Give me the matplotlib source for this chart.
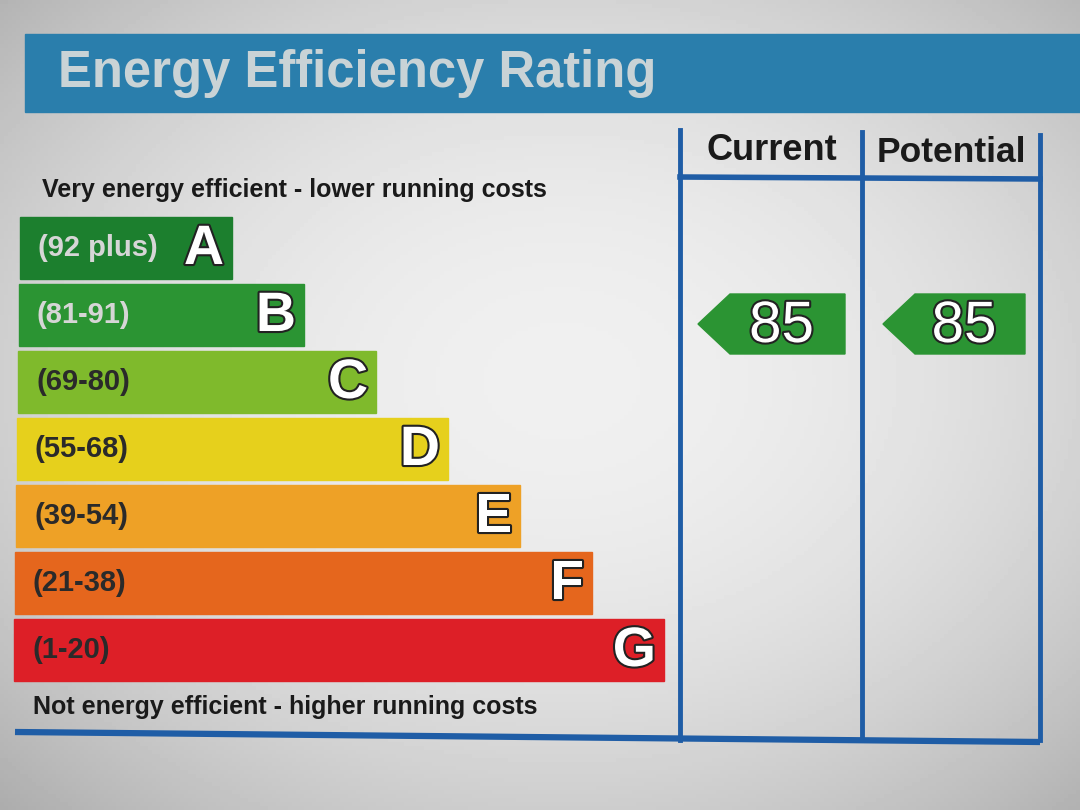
import numpy as np
import matplotlib.pyplot as plt
from matplotlib.patches import Rectangle, Polygon
import matplotlib.patheffects as pe

plt.rcParams['font.family'] = ['Liberation Sans', 'DejaVu Sans']

# chart data
bands = ['A', 'B', 'C', 'D', 'E', 'F', 'G']
ranges = ['(92 plus)', '(81-91)', '(69-80)', '(55-68)', '(39-54)', '(21-38)', '(1-20)']
lows = [92, 81, 69, 55, 39, 21, 1]
band_colors = ['#1c7f2e', '#2b9433', '#7fba2c', '#e6d01c', '#eea126', '#e5661d', '#dd1f27']
range_text = ['#d6d6d6', '#d6d6d6', '#2a2a2a', '#2a2a2a', '#2a2a2a', '#2a2a2a', '#2a2a2a']
current = 85
potential = 85

title = 'Energy Efficiency Rating'
top_note = 'Very energy efficient - lower running costs'
bottom_note = 'Not energy efficient - higher running costs'
col_titles = ['Current', 'Potential']

fig = plt.figure(figsize=(10.8, 8.1), dpi=100)
ax = fig.add_axes([0, 0, 1, 1])
ax.set_xlim(0, 1080)
ax.set_ylim(810, 0)
ax.axis('off')

# screen background, lighter in the middle
yy, xx = np.mgrid[0:810:4, 0:1080:4]
d = np.sqrt(((xx - 560) / 700.0) ** 2 + ((yy - 380) / 520.0) ** 2)
bg = np.clip(0.94 - 0.2 * d ** 2, 0.62, 0.95)
ax.imshow(bg, cmap='gray', vmin=0, vmax=1, extent=(0, 1080, 810, 0),
          aspect='auto', zorder=0)

# title banner
ax.add_patch(Rectangle((25, 34), 1060, 78, color='#2a7eac', zorder=1))
ax.text(58, 73, title, fontsize=36.5, fontweight='bold', color='#c9d3d6',
        va='center', ha='left', zorder=2)

ax.text(42, 190, top_note, fontsize=18, fontweight='bold', color='#1a1a1a',
        va='center', ha='left')
ax.text(33, 707, bottom_note, fontsize=18, fontweight='bold', color='#1a1a1a',
        va='center', ha='left')

# rating bars
outline = [pe.withStroke(linewidth=3, foreground='#222222')]
top0, step, h = 217, 67, 62
for i, b in enumerate(bands):
    y0 = top0 + i * step
    x0 = 20 - i
    right = 232 + i * 72
    ax.add_patch(Rectangle((x0, y0), right - x0, h, color=band_colors[i], zorder=2))
    ax.text(x0 + 18, y0 + h / 2, ranges[i], fontsize=21, fontweight='bold',
            color=range_text[i], va='center', ha='left', zorder=3)
    ax.text(right - 8, y0 + h / 2 + 2, b, fontsize=40, fontweight='bold',
            color='white', va='center', ha='right', zorder=3, path_effects=outline)

# frame for current / potential columns
frame = '#1f5da6'
ax.plot([15, 1040], [732, 742], color=frame, lw=4.5, solid_capstyle='butt', zorder=3)
for x, ytop in [(680, 130), (862, 132), (1040, 135)]:
    ax.plot([x, x], [ytop, 740], color=frame, lw=3.5, zorder=3)
ax.plot([680, 1040], [177, 179], color=frame, lw=4, zorder=3)
ax.text(772, 150, col_titles[0], fontsize=26, fontweight='bold', color='#1a1a1a',
        va='center', ha='center')
ax.text(951, 152, col_titles[1], fontsize=25.5, fontweight='bold', color='#1a1a1a',
        va='center', ha='center')


def band_of(v):
    for i, lo in enumerate(lows):
        if v >= lo:
            return i
    return len(lows) - 1


def arrow(x_left, x_right, value):
    i = band_of(value)
    y0 = top0 + i * step + 10
    y1 = y0 + 60
    ym = (y0 + y1) / 2
    pts = [(x_left, ym), (x_left + 32, y0), (x_right, y0), (x_right, y1), (x_left + 32, y1)]
    ax.add_patch(Polygon(pts, closed=True, color=band_colors[i], zorder=4))
    ax.text((x_left + 32 + x_right) / 2 - 6, ym + 3, str(value), fontsize=42,
            color='white', va='center', ha='center', zorder=5, path_effects=outline)


arrow(698, 845, current)
arrow(883, 1025, potential)

fig.savefig('out.png', dpi=100)
